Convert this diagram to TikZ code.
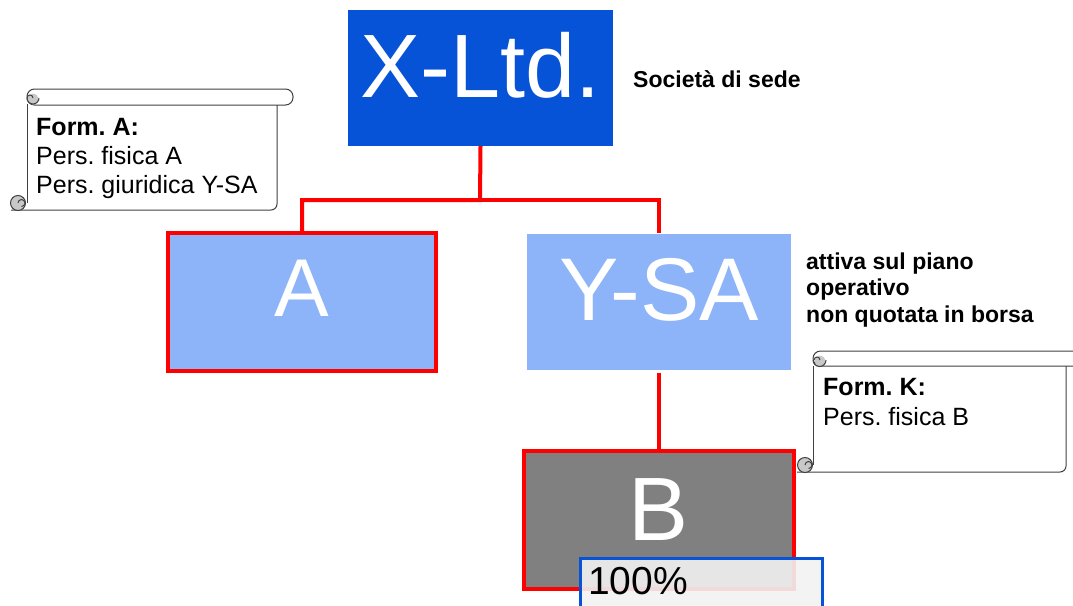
\documentclass[tikz,border=0pt]{standalone}
\usepackage{fontspec}
\setmainfont{Liberation Sans}
\frenchspacing
\definecolor{xblue}{HTML}{0753D8}
\definecolor{lblue}{HTML}{8DB4F8}
\definecolor{bgray}{HTML}{808080}
\definecolor{curl}{HTML}{C8C8C8}
\definecolor{scline}{HTML}{404040}
\definecolor{pctfill}{HTML}{F2F2F2}
\tikzset{
  bigbox/.style={inner sep=0pt, text=white},
  conn/.style={draw=red, line width=4pt},
  sc/.style={draw=scline, line width=1pt},
  boldlbl/.style={anchor=base west, inner sep=0pt, font=\fontsize{23}{27}\selectfont\bfseries},
  sctext/.style={anchor=base west, inner sep=0pt, font=\fontsize{25}{29}\selectfont},
}
\begin{document}
\begin{tikzpicture}[x=1pt,y=-1pt]
\useasboundingbox (0,0) rectangle (1073,605);

% boxes
\node[bigbox, fill=xblue, minimum width=265pt, minimum height=136pt,
  font=\fontsize{90}{90}\selectfont, text height=64pt, text depth=25pt] (X) at (480.5,78) {X-Ltd.};
\node[bigbox, fill=lblue, draw=red, line width=4pt, minimum width=268pt, minimum height=138pt,
  font=\fontsize{82}{82}\selectfont, text height=59pt, text depth=31pt] (A) at (302,302) {A};
\node[bigbox, fill=lblue, minimum width=264pt, minimum height=136pt,
  font=\fontsize{89}{89}\selectfont, text height=64pt, text depth=27pt] (Y) at (659,301.5) {Y-SA};
\node[bigbox, fill=bgray, draw=red, line width=4pt, minimum width=270pt, minimum height=138pt,
  font=\fontsize{90}{90}\selectfont, text height=64pt, text depth=24pt] (B) at (659,520) {B};

% connectors
\coordinate (j) at (480,200);
\draw[conn] (X.south) -- (j) -| (A.north);
\draw[conn] (j) -| (Y.north);
\draw[conn] ([yshift=-3pt]Y.south) -- (B.north);

% labels
\node[boldlbl] (soc) at (633,87) {Società di sede};
\node[boldlbl] (att1) at (806,269) {attiva sul piano};
\node[boldlbl] (att2) at (806,295) {operativo};
\node[boldlbl] (att3) at (806,322) {non quotata in borsa};

% scroll A
\fill[white] (27,97) rectangle (277,210);
\draw[sc, rounded corners=6pt] (11,210) -- (277,210) -- (277,104);
\draw[sc] (27,104) -- (27,203);
\draw[sc, fill=curl] (18,203) circle (7.5pt);
\draw[sc] (18,203) arc[start angle=180, end angle=-90, radius=3.5pt];
\draw[sc, fill=white, rounded corners=7.5pt] (27,89) rectangle (293,105);
\fill[curl] (33,99) circle (5.5pt);
\draw[sc] (27,98) arc[start angle=180, end angle=360, radius=6pt];
\draw[sc] (33,98) arc[start angle=0, end angle=180, radius=3pt];
\node[sctext, font=\fontsize{25}{29}\selectfont\bfseries] (fa) at (36,135) {Form. A:};
\node[sctext] (fa1) at (36,164) {Pers. fisica A};
\node[sctext] (fa2) at (36,193) {Pers. giuridica Y-SA};

% scroll K
\fill[white] (813,359) rectangle (1066,472);
\draw[sc, rounded corners=6pt] (797,472) -- (1066,472) -- (1066,366);
\draw[sc] (813,366) -- (813,465);
\draw[sc, fill=curl] (805,465) circle (7.5pt);
\draw[sc] (805,465) arc[start angle=180, end angle=-90, radius=3.5pt];
\draw[sc, fill=white, rounded corners=7.5pt] (813,351) rectangle (1090,366);
\fill[curl] (820,361) circle (5.5pt);
\draw[sc] (813,360) arc[start angle=180, end angle=360, radius=6.5pt];
\draw[sc] (820,360) arc[start angle=0, end angle=180, radius=3pt];
\node[sctext, font=\fontsize{25}{29}\selectfont\bfseries] (fk) at (823,395) {Form. K:};
\node[sctext] (fk1) at (823,425) {Pers. fisica B};

% 100% box
\node[draw=xblue, line width=2.5pt, fill=pctfill, fill opacity=0.9, anchor=north west,
  minimum width=242pt, minimum height=56pt, inner sep=0pt] (pct) at (579,557) {};
\node[anchor=base west, inner sep=0pt, font=\fontsize{39}{39}\selectfont] (pcttxt)
  at ([xshift=9pt,yshift=-37pt]pct.north west) {100\%};
\end{tikzpicture}
\end{document}
